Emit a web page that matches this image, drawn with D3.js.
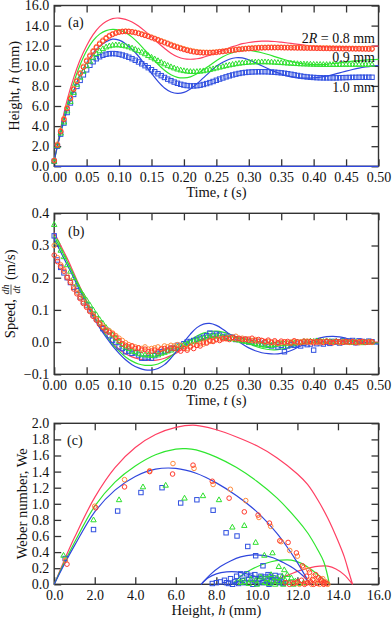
<!DOCTYPE html>
<html><head><meta charset="utf-8">
<script src="https://cdn.jsdelivr.net/npm/d3@7"></script>
<style>
html,body{margin:0;padding:0;background:#fff;}
svg, svg text{font-family:"Liberation Serif","Times New Roman",serif !important;}
</style></head>
<body>
<script>
// ---------------- DATA ----------------
const tStep = 0.005; // experimental sampling interval (s)
// Panel (a): heights (mm) of experimental series
const hRed = [0.55,2.1,3.45,4.65,5.75,6.75,7.65,8.45,9.2,9.85,
10.45,10.95,11.4,11.8,12.15,12.45,12.72,12.95,13.12,13.25,
13.35,13.4,13.42,13.4,13.36,13.3,13.22,13.12,13.02,12.92,
12.8,12.68,12.56,12.43,12.3,12.18,12.05,11.93,11.82,11.72,
11.62,11.53,11.45,11.39,11.34,11.31,11.29,11.28,11.29,11.31,
11.34,11.38,11.42,11.46,11.5,11.54,11.58,11.62,11.65,11.68,
11.71,11.73,11.75,11.77,11.78,11.79,11.8,11.8,11.8,11.8,
11.8,11.79,11.79,11.78,11.78,11.77,11.77,11.76,11.76,11.75,
11.75,11.74,11.74,11.73,11.73,11.72,11.72,11.71,11.71,11.7,
11.7,11.69,11.69,11.68,11.68,11.67,11.67,11.66,11.66];
const hOrange = [0.6,2.2,3.55,4.75,5.85,6.85,7.75,8.55,9.3,9.95,
10.55,11.05,11.5,11.9,12.25,12.55,12.8,13.02,13.18,13.3,
13.38,13.43,13.45,13.44,13.4,13.34,13.26,13.17,13.07,12.96,
12.85,12.73,12.61,12.49,12.37,12.25,12.13,12.01,11.9,11.8,
11.7,11.61,11.53,11.46,11.41,11.37,11.35,11.34,11.34,11.36,
11.38,11.42,11.46,11.5,11.55,11.59,11.63,11.67,11.7,11.73,
11.76,11.78,11.8,11.82,11.83,11.84,11.85,11.85,11.85,11.85,
11.85,11.84,11.84,11.83,11.83,11.82,11.82,11.81,11.81,11.8,
11.8,11.79,11.79,11.78,11.78,11.77,11.77,11.76,11.76,11.75,
11.75,11.74,11.74,11.73,11.73,11.72,11.72,11.71,11.71];
const hGreen = [0.5,2.05,3.3,4.4,5.5,6.45,7.35,8.15,8.85,9.45,
10.0,10.45,10.85,11.2,11.48,11.7,11.87,11.98,12.05,12.08,
12.07,12.03,11.97,11.88,11.77,11.64,11.5,11.35,11.19,11.02,
10.85,10.68,10.51,10.35,10.19,10.04,9.9,9.78,9.67,9.58,
9.51,9.46,9.43,9.42,9.43,9.46,9.5,9.56,9.63,9.7,
9.78,9.86,9.94,10.01,10.08,10.14,10.2,10.25,10.29,10.32,
10.35,10.37,10.38,10.39,10.39,10.39,10.38,10.37,10.35,10.33,
10.31,10.29,10.27,10.25,10.23,10.21,10.19,10.18,10.17,10.16,
10.15,10.14,10.14,10.13,10.13,10.13,10.13,10.13,10.13,10.14,
10.14,10.14,10.14,10.14,10.14,10.14,10.14,10.14,10.14];
const hBlue = [0.5,2.0,3.2,4.3,5.35,6.3,7.15,7.95,8.55,9.1,
9.6,10.05,10.4,10.7,10.9,11.05,11.15,11.2,11.22,11.2,
11.15,11.07,10.97,10.85,10.71,10.55,10.38,10.2,10.01,9.81,
9.61,9.41,9.21,9.02,8.84,8.67,8.52,8.38,8.26,8.16,
8.08,8.03,8.0,8.0,8.02,8.07,8.14,8.23,8.33,8.44,
8.56,8.68,8.79,8.9,9.0,9.09,9.17,9.24,9.3,9.34,
9.37,9.39,9.4,9.41,9.41,9.41,9.4,9.38,9.36,9.33,
9.3,9.26,9.21,9.16,9.1,9.04,8.98,8.93,8.89,8.86,
8.84,8.82,8.81,8.8,8.8,8.8,8.8,8.8,8.81,8.82,
8.83,8.84,8.85,8.85,8.86,8.86,8.86,8.86,8.86];

// Theory curves, sampled every 0.01 s
const tTheoryStep = 0.01;
const hRedLine = [0.5,3.8,6.6,8.8,10.6,12.0,13.1,13.9,14.4,14.7,14.75,14.62,14.35,13.95,13.45,12.9,12.3,11.75,11.25,10.9,10.7,10.65,10.7,10.85,11.05,11.3,11.55,11.8,12.0,12.2,12.32,12.4,12.45,12.46,12.42,12.35,12.27,12.18,12.1,12.02,11.95,11.9,11.87,11.85,11.85,11.86,11.88,11.9,11.92,11.94,11.96];
const hGreenLine = [0.5,3.5,6.1,8.3,10.1,11.5,12.5,13.15,13.5,13.62,13.55,13.3,12.85,12.25,11.55,10.85,10.15,9.55,9.1,8.85,8.8,8.9,9.2,9.6,10.05,10.5,10.9,11.2,11.4,11.52,11.52,11.44,11.3,11.12,10.92,10.72,10.52,10.36,10.24,10.16,10.12,10.12,10.15,10.22,10.3,10.38,10.46,10.52,10.57,10.61,10.64];
const hBlueLine = [0.6,3.3,5.6,7.5,9.1,10.3,11.25,11.95,12.4,12.65,12.55,12.2,11.65,10.95,10.1,9.25,8.45,7.8,7.4,7.25,7.35,7.7,8.2,8.8,9.4,9.95,10.35,10.65,10.8,10.78,10.6,10.32,10.0,9.7,9.42,9.18,8.98,8.85,8.78,8.77,8.8,8.87,8.98,9.13,9.3,9.47,9.63,9.77,9.88,9.97,10.03];
const hZeroLine = [0,0];

// Panel (b): speeds (m/s) of experimental series
const vRed = [0.27,0.25,0.235,0.22,0.2,0.185,0.165,0.15,0.135,0.12,
0.108,0.095,0.08,0.068,0.055,0.045,0.035,0.03,0.025,0.015,
0.005,-0.005,-0.01,-0.015,-0.012,-0.02,-0.018,-0.025,-0.022,-0.03,
-0.028,-0.025,-0.03,-0.022,-0.02,-0.025,-0.018,-0.02,-0.022,-0.028,
-0.02,-0.025,-0.015,-0.02,-0.01,-0.012,0.0,-0.003,0.005,0.002,
0.008,0.005,0.01,0.012,0.008,0.015,0.01,0.012,0.008,0.01,
0.006,0.012,0.004,0.008,0.005,0.002,0.006,0.0,0.004,-0.002,
0.003,0.0,0.002,-0.003,0.004,0.001,-0.002,0.003,0.0,0.002,
-0.002,0.001,0.003,-0.001,0.002,0.0,-0.002,0.002,0.001,-0.001,
0.002,0.0,0.001,-0.002,0.001,0.002,-0.001,0.0,0.001];
const vOrange = [0.30,0.262,0.24,0.225,0.205,0.19,0.172,0.155,0.14,0.125,
0.112,0.098,0.085,0.072,0.06,0.05,0.04,0.035,0.028,0.02,
0.012,0.005,-0.002,-0.008,-0.012,-0.015,-0.018,-0.02,-0.015,-0.022,
-0.02,-0.018,-0.015,-0.02,-0.012,-0.015,-0.01,-0.012,-0.008,-0.01,
-0.018,-0.02,-0.012,-0.008,-0.01,-0.005,-0.006,0.0,0.002,0.005,
0.008,0.01,0.012,0.01,0.015,0.012,0.018,0.01,0.012,0.008,
0.01,0.005,0.008,0.003,0.005,0.0,0.002,-0.002,0.0,-0.004,
-0.002,0.001,-0.003,0.0,0.002,-0.002,0.001,0.0,0.003,-0.001,
0.002,0.0,-0.002,0.001,0.003,-0.001,0.0,0.002,-0.002,0.001,
0.0,-0.001,0.002,0.0,-0.002,0.001,0.0,0.001,-0.001];
const vGreen = [0.365,0.31,0.285,0.265,0.24,0.22,0.2,0.18,0.16,0.145,
0.13,0.115,0.1,0.085,0.07,0.058,0.045,0.035,0.022,0.012,
0.002,-0.008,-0.015,-0.02,-0.028,-0.03,-0.035,-0.038,-0.04,-0.04,
-0.042,-0.038,-0.04,-0.035,-0.032,-0.028,-0.025,-0.02,-0.015,-0.012,
-0.008,-0.005,0.0,0.003,0.006,0.01,0.012,0.015,0.018,0.02,
0.018,0.02,0.016,0.015,0.012,0.01,0.008,0.006,0.004,0.002,
0.0,-0.002,-0.004,-0.006,-0.008,-0.01,-0.008,-0.01,-0.008,-0.006,
-0.005,-0.006,-0.004,-0.002,-0.003,0.0,-0.001,0.002,0.001,0.003,
0.002,0.004,0.003,0.002,0.004,0.002,0.001,0.003,0.0,0.002,
0.001,0.0,-0.001,0.001,0.0,-0.002,0.0,0.001,0.0];
const vBlue = [0.33,0.255,0.232,0.215,0.2,0.185,0.17,0.16,0.14,0.125,
0.115,0.1,0.085,0.073,0.06,0.042,0.037,0.02,0.006,0.0,
-0.015,-0.02,-0.03,-0.028,-0.035,-0.033,-0.04,-0.05,-0.05,-0.048,
-0.05,-0.042,-0.035,-0.03,-0.028,-0.025,-0.02,-0.018,-0.01,-0.012,
-0.005,0.0,0.002,0.005,0.008,0.012,0.015,0.02,0.028,0.02,
0.025,0.022,0.015,0.018,0.012,0.015,0.008,0.01,0.005,0.008,
0.0,0.004,-0.004,0.002,-0.006,-0.002,-0.01,-0.012,-0.008,-0.015,
-0.01,-0.03,-0.012,-0.008,-0.01,-0.006,-0.012,-0.004,-0.008,-0.006,
-0.025,-0.005,-0.002,-0.006,0.0,-0.004,0.002,0.0,-0.003,0.004,
0.0,0.003,0.005,-0.002,0.004,0.002,0.0,0.003,0.001];
const vRedLine = [0.34,0.3,0.26,0.215,0.17,0.128,0.088,0.052,0.022,-0.003,-0.022,-0.036,-0.046,-0.052,-0.056,-0.057,-0.055,-0.05,-0.042,-0.032,-0.02,-0.008,0.003,0.011,0.016,0.019,0.02,0.019,0.016,0.012,0.007,0.002,-0.003,-0.006,-0.008,-0.009,-0.009,-0.008,-0.006,-0.004,-0.002,0.0,0.001,0.002,0.002,0.002,0.002,0.001,0.001,0.0,0.0];
const vGreenLine = [0.33,0.29,0.25,0.208,0.165,0.124,0.085,0.05,0.02,-0.006,-0.028,-0.046,-0.059,-0.068,-0.072,-0.072,-0.068,-0.058,-0.044,-0.027,-0.01,0.006,0.019,0.028,0.033,0.034,0.031,0.025,0.016,0.006,-0.004,-0.013,-0.019,-0.023,-0.024,-0.022,-0.018,-0.012,-0.006,0.0,0.004,0.007,0.008,0.008,0.007,0.005,0.002,0.0,-0.002,-0.003,-0.003];
const vBlueLine = [0.32,0.28,0.24,0.2,0.158,0.118,0.08,0.045,0.015,-0.012,-0.035,-0.055,-0.07,-0.08,-0.086,-0.087,-0.082,-0.07,-0.05,-0.025,0.0,0.025,0.045,0.056,0.058,0.052,0.04,0.025,0.009,-0.006,-0.018,-0.027,-0.033,-0.036,-0.037,-0.035,-0.03,-0.022,-0.012,-0.002,0.007,0.013,0.017,0.018,0.016,0.012,0.007,0.002,-0.002,-0.005,-0.006];

// Panel (c): [height (mm), Weber number]
const weRed = [[0.63,0.25],[2.05,0.95],[3.47,1.21],[4.71,1.40],[5.84,1.37],[6.85,1.48],[7.8,1.28],[8.63,1.07],[9.38,0.90],[10.06,0.86],[10.62,0.76],[11.13,0.54],[11.54,0.52],[11.95,0.39],[12.25,0.23],[12.6,0.15],[12.9,0.12],[12.45,0.1],[12.75,0.06],[13.05,0.08],[13.2,0.04],[13.35,0.02],[12.2,0.05],[12.0,0.03],[11.8,0.01],[12.5,0.02],[12.8,0.0],[13.0,0.01],[13.3,0.0],[13.45,0.01],[11.6,0.0],[12.35,0.0],[12.65,0.03],[13.15,0.06],[11.4,0.02]];
const weOrange = [[0.55,0.30],[2.0,0.97],[3.47,1.30],[4.71,1.41],[5.86,1.50],[6.9,1.44],[7.84,1.24],[8.69,1.18],[9.45,1.04],[10.1,0.83],[10.68,0.72],[11.2,0.53],[11.62,0.42],[12.0,0.35],[12.3,0.21],[12.55,0.18],[12.8,0.1],[13.0,0.05],[13.25,0.07],[13.4,0.03],[13.1,0.0],[12.9,0.02],[12.6,0.05],[12.4,0.01],[12.1,0.0],[11.9,0.02],[13.5,0.0],[13.3,0.01],[12.7,0.0]];
const weGreen = [[0.46,0.36],[1.94,0.80],[3.2,1.05],[4.38,1.21],[5.5,1.23],[6.43,1.07],[7.34,1.10],[8.13,1.05],[8.79,0.71],[9.38,0.73],[9.94,0.52],[10.37,0.36],[10.77,0.39],[11.08,0.22],[11.35,0.18],[11.5,0.12],[11.7,0.08],[11.25,0.1],[11.0,0.08],[10.7,0.12],[10.5,0.07],[10.2,0.09],[9.95,0.05],[9.7,0.06],[9.4,0.03],[9.2,0.02],[9.6,0.01],[10.0,0.0],[10.4,0.02],[10.8,0.04],[11.1,0.03],[11.4,0.05],[11.6,0.02],[11.9,0.04],[12.1,0.01],[10.9,0.0],[10.6,0.01],[11.3,0.0],[11.8,0.0],[12.3,0.02]];
const weBlue = [[0.54,0.32],[1.94,0.68],[3.13,0.91],[4.28,1.14],[5.32,1.20],[6.24,1.01],[7.04,1.05],[7.84,0.92],[8.48,0.64],[9.02,0.60],[9.55,0.47],[9.94,0.355],[10.3,0.23],[10.55,0.12],[10.8,0.08],[11.0,0.05],[11.15,0.1],[10.9,0.11],[10.65,0.1],[10.4,0.09],[10.2,0.1],[9.9,0.12],[9.7,0.11],[9.5,0.13],[9.2,0.13],[9.0,0.1],[8.7,0.07],[8.4,0.05],[8.2,0.03],[8.0,0.02],[7.8,0.01],[8.6,0.01],[8.9,0.03],[9.3,0.05],[9.6,0.06],[9.9,0.04],[10.1,0.07],[10.5,0.05],[10.7,0.03],[11.1,0.02],[11.3,0.01],[9.4,0.02],[9.1,0.01],[10.0,0.01],[10.3,0.02],[8.5,0.02],[8.8,0.0],[9.8,0.0],[10.6,0.0],[11.2,0.03]];
// theory arcs in (c)
const weRedArcs = [
 [[0,0],[0.5,0.3],[1,0.58],[2,1.08],[3,1.45],[4,1.7],[5,1.86],[6,1.95],[7,1.975],[8,1.92],[9,1.83],[10,1.72],[11,1.57],[12,1.37],[12.5,1.24],[13,1.05],[13.5,0.82],[14,0.54],[14.3,0.35],[14.55,0.14],[14.72,0]],
 [[10.65,0],[11.1,0.07],[11.6,0.12],[12.1,0.17],[12.6,0.205],[13.1,0.225],[13.5,0.225],[13.9,0.19],[14.3,0.12],[14.72,0]],
 [[10.65,0],[11.1,0.03],[11.6,0.045],[12.1,0.03],[12.45,0]]
];
const weGreenArcs = [
 [[0,0],[0.5,0.27],[1,0.52],[2,0.97],[3,1.27],[4,1.47],[5,1.61],[6,1.68],[6.5,1.685],[7,1.67],[8,1.58],[9,1.45],[10,1.28],[11,1.07],[12,0.8],[12.5,0.64],[13,0.43],[13.3,0.28],[13.58,0]],
 [[8.8,0],[9.2,0.1],[9.7,0.18],[10.2,0.24],[10.7,0.28],[11.2,0.3],[11.7,0.3],[12.2,0.26],[12.7,0.18],[13.1,0.1],[13.58,0]],
 [[8.8,0],[9.3,0.07],[9.9,0.1],[10.5,0.095],[11.0,0.06],[11.5,0]],
 [[10.1,0],[10.5,0.02],[10.9,0.025],[11.5,0]]
];
const weBlueArcs = [
 [[0,0],[0.5,0.25],[1,0.48],[2,0.9],[3,1.17],[4,1.34],[5,1.43],[6,1.44],[7,1.38],[8,1.26],[9,1.1],[10,0.9],[11,0.63],[11.5,0.46],[12,0.27],[12.35,0.12],[12.63,0]],
 [[7.25,0],[7.7,0.12],[8.2,0.22],[8.7,0.29],[9.2,0.34],[9.8,0.365],[10.3,0.36],[10.8,0.33],[11.3,0.27],[11.8,0.2],[12.3,0.1],[12.63,0]],
 [[7.25,0],[7.6,0.08],[8.0,0.13],[8.5,0.155],[9.0,0.155],[9.5,0.13],[10.0,0.09],[10.4,0.05],[10.8,0]],
 [[8.75,0],[9.2,0.04],[9.7,0.05],[10.2,0.03],[10.8,0]]
];

// tick labels
const xTicksT = [0,0.05,0.1,0.15,0.2,0.25,0.3,0.35,0.4,0.45,0.5];
const yTicksH = [0,2,4,6,8,10,12,14,16];
const yTicksV = [-0.1,0,0.1,0.2,0.3,0.4];
const xTicksHc = [0,2,4,6,8,10,12,14,16];
const yTicksWe = [0,0.2,0.4,0.6,0.8,1.0,1.2,1.4,1.6,1.8,2.0];

// ---------------- STYLE ----------------
const FONT = '"Liberation Serif","Times New Roman",serif';
const C = {red:"#ff3a2e", orange:"#ff8a3a", green:"#2ee02e", blue:"#3050e0",
           redL:"#ff3f62", greenL:"#2fe62f", blueL:"#2f46dd", axis:"#333"};
const W = 392, H = 620, L = 54.2, R = 378.5;
const svg = d3.select("body").append("svg").attr("width", W).attr("height", H).attr("font-family", FONT);

function makePanel(top, bottom, xDom, yDom, xt, yt, fx, fy){
  const x = d3.scaleLinear().domain(xDom).range([L, R]);
  const y = d3.scaleLinear().domain(yDom).range([bottom, top]);
  const g = svg.append("g");
  const tk = 7;
  const style = sel => {
    sel.attr("font-family", FONT).attr("font-size", 14);
    sel.select(".domain").remove();
    sel.selectAll("line").attr("stroke", C.axis).attr("stroke-width", 1.3);
    sel.selectAll("text").attr("font-size", 14).attr("fill", "#111").attr("font-family", FONT);
  };
  g.append("g").attr("transform", `translate(0,${bottom})`)
    .call(d3.axisBottom(x).tickValues(xt).tickFormat(fx).tickSize(-tk).tickPadding(5.5)).call(style);
  g.append("g").attr("transform", `translate(0,${top})`)
    .call(d3.axisTop(x).tickValues(xt).tickFormat("").tickSize(-tk)).call(style);
  g.append("g").attr("transform", `translate(${L},0)`)
    .call(d3.axisLeft(y).tickValues(yt).tickFormat(fy).tickSize(-tk).tickPadding(5)).call(style);
  g.append("g").attr("transform", `translate(${R},0)`)
    .call(d3.axisRight(y).tickValues(yt).tickFormat("").tickSize(-tk)).call(style);
  g.append("rect").attr("x", L).attr("y", top).attr("width", R - L).attr("height", bottom - top)
    .attr("fill", "none").attr("stroke", C.axis).attr("stroke-width", 1.4);
  return {x, y, g, top, bottom};
}

function drawLine(p, pts, color, curve){
  p.g.append("path").datum(pts)
    .attr("d", d3.line().x(d => p.x(d[0])).y(d => p.y(d[1])).curve(curve || d3.curveCatmullRom))
    .attr("fill", "none").attr("stroke", color).attr("stroke-width", 1.2);
}
function drawMarkers(p, pts, shape, color){
  const gg = p.g.append("g").attr("fill", "none").attr("stroke", color).attr("stroke-width", 1);
  pts.forEach(d => {
    const cx = p.x(d[0]), cy = p.y(d[1]);
    if (shape === "circle") gg.append("circle").attr("cx", cx).attr("cy", cy).attr("r", 2.3);
    else if (shape === "square") gg.append("rect").attr("x", cx - 2.2).attr("y", cy - 2.2).attr("width", 4.4).attr("height", 4.4);
    else gg.append("path").attr("d", `M${cx},${cy-2.9}L${cx+2.7},${cy+1.9}L${cx-2.7},${cy+1.9}Z`);
  });
}
const series = (arr, step) => arr.map((v, i) => [i * step, v]);

function text(x, y, parts, opts){
  const t = svg.append("text").attr("x", x).attr("y", y).attr("font-size", (opts&&opts.size)||14.5)
    .attr("fill", "#111").attr("text-anchor", (opts&&opts.anchor)||"middle").attr("font-family", FONT)
    .attr("xml:space", "preserve").style("white-space", "pre");
  if (opts && opts.rotate) t.attr("transform", `rotate(-90,${x},${y})`);
  parts.forEach(pp => { const s = t.append("tspan").text(pp[0]); if (pp[1]) s.attr("font-style", "italic"); });
  return t;
}

// ---------------- PANEL (a) ----------------
const fx2 = d3.format(".2f"), fy1 = d3.format(".1f");
const pa = makePanel(5.5, 166.3, [0, 0.5], [0, 16], xTicksT, yTicksH, fx2, fy1);
drawLine(pa, [[0, hZeroLine[0]], [0.5, hZeroLine[1]]], C.blueL, d3.curveLinear);
drawLine(pa, series(hRedLine, tTheoryStep), C.redL);
drawLine(pa, series(hGreenLine, tTheoryStep), C.greenL);
drawLine(pa, series(hBlueLine, tTheoryStep), C.blueL);
drawMarkers(pa, series(hBlue, tStep), "square", C.blue);
drawMarkers(pa, series(hGreen, tStep), "tri", C.green);
drawMarkers(pa, series(hOrange, tStep), "circle", C.orange);
drawMarkers(pa, series(hRed, tStep), "circle", C.red);
text(68, 27, [["(a)"]], {anchor: "start", size: 14});
text(375, 42.5, [["2"], ["R", true], [" = 0.8 mm"]], {anchor: "end", size: 14});
text(375, 62, [["0.9 mm"]], {anchor: "end", size: 14});
text(375, 92, [["1.0 mm"]], {anchor: "end", size: 14});
text((L + R) / 2, 196.5, [["Time, "], ["t", true], [" (s)"]]);
text(19, (5.5 + 166.3) / 2, [["Height, "], ["h", true], [" (mm)"]], {rotate: true});

// ---------------- PANEL (b) ----------------
const pb = makePanel(213.3, 374.3, [0, 0.5], [-0.1, 0.4], xTicksT, yTicksV, fx2, fy1);
drawLine(pb, series(vRedLine, tTheoryStep), C.redL);
drawLine(pb, series(vGreenLine, tTheoryStep), C.greenL);
drawLine(pb, series(vBlueLine, tTheoryStep), C.blueL);
drawMarkers(pb, series(vBlue, tStep), "square", C.blue);
drawMarkers(pb, series(vGreen, tStep), "tri", C.green);
drawMarkers(pb, series(vOrange, tStep), "circle", C.orange);
drawMarkers(pb, series(vRed, tStep), "circle", C.red);
text(68, 236, [["(b)"]], {anchor: "start", size: 14});
text((L + R) / 2, 405, [["Time, "], ["t", true], [" (s)"]]);
// y label with fraction dh/dt
(function(){
  const cy = (213.3 + 374.3) / 2, bx = 15;
  const g = svg.append("g").attr("transform", `translate(${bx},${cy}) rotate(-90)`).attr("fill", "#111").attr("font-family", FONT);
  const t1 = g.append("text").attr("font-size", 14.5).text("Speed,");
  const w1 = t1.node().getComputedTextLength() + 4;
  const n = g.append("text").attr("font-size", 10).attr("font-style", "italic").attr("text-anchor", "middle").text("dh");
  const dd = g.append("text").attr("font-size", 10).attr("font-style", "italic").attr("text-anchor", "middle").text("dt");
  const wf = 11;
  const t3 = g.append("text").attr("font-size", 14.5).text("(m/s)");
  const w3 = t3.node().getComputedTextLength() + 4;
  const total = w1 + wf + w3, x0 = -total / 2;
  t1.attr("x", x0).attr("y", 0);
  n.attr("x", x0 + w1 + wf / 2).attr("y", -6);
  dd.attr("x", x0 + w1 + wf / 2).attr("y", 4.5);
  g.append("line").attr("x1", x0 + w1 + 0.5).attr("x2", x0 + w1 + wf - 0.5).attr("y1", -4).attr("y2", -4)
    .attr("stroke", "#111").attr("stroke-width", 0.7);
  t3.attr("x", x0 + w1 + wf + 4).attr("y", 0);
})();

// ---------------- PANEL (c) ----------------
const pc = makePanel(423.3, 584.3, [0, 16], [0, 2], xTicksHc, yTicksWe, fy1, fy1);
weRedArcs.forEach(a => drawLine(pc, a, C.redL));
weGreenArcs.forEach(a => drawLine(pc, a, C.greenL));
weBlueArcs.forEach(a => drawLine(pc, a, C.blueL));
drawMarkers(pc, weBlue, "square", C.blue);
drawMarkers(pc, weGreen, "tri", C.green);
drawMarkers(pc, weOrange, "circle", C.orange);
drawMarkers(pc, weRed, "circle", C.red);
text(67, 445, [["(c)"]], {anchor: "start", size: 14});
text((L + R) / 2, 615, [["Height, "], ["h", true], [" (mm)"]]);
text(27, (423.3 + 584.3) / 2, [["Weber number, We"]], {rotate: true});
</script>
</body></html>
